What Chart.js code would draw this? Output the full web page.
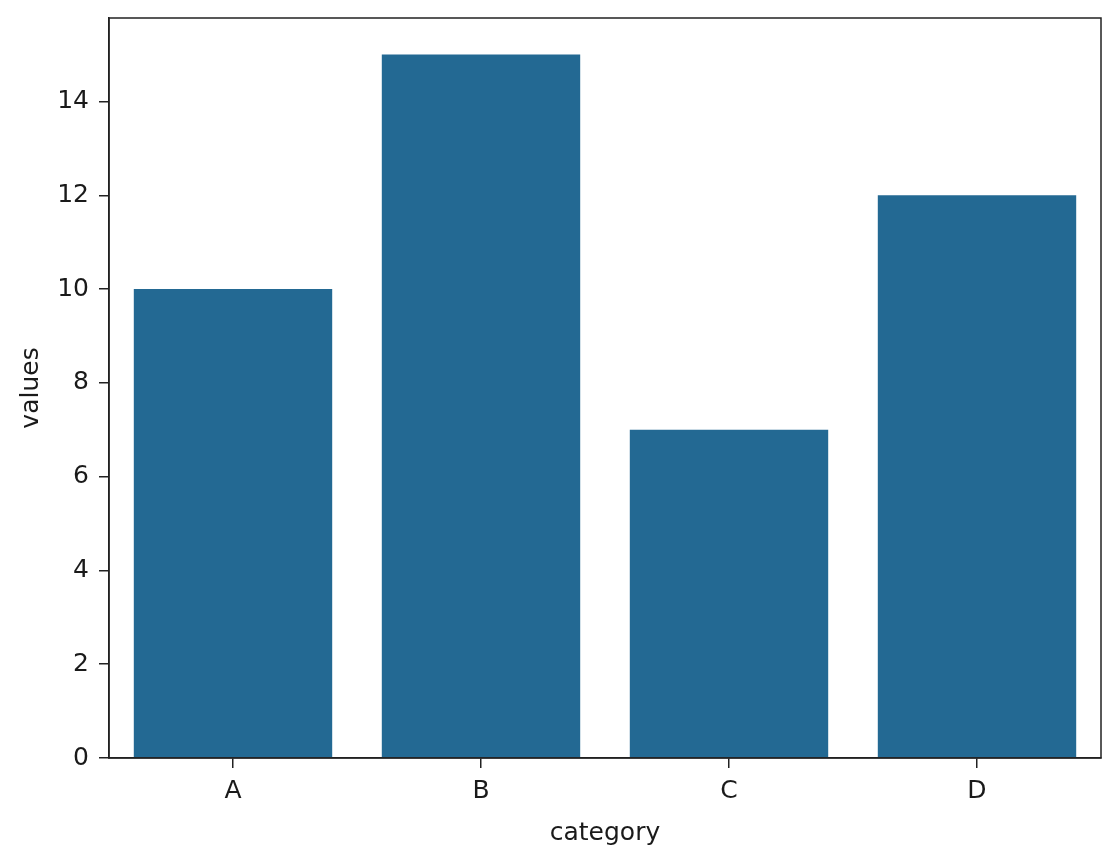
<!DOCTYPE html>
<html>
<head>
<meta charset="utf-8">
<script src="https://cdn.jsdelivr.net/npm/chart.js@4.4.1/dist/chart.umd.min.js"></script>
<style>
  html, body { margin: 0; padding: 0; background: #fff; }
  #wrap { width: 1116px; height: 852px; }
</style>
</head>
<body>
<div id="wrap"><canvas id="barChart"></canvas></div>
<script>
const categories = ["A", "B", "C", "D"];
const values = [10, 15, 7, 12];
const yTicks = [0, 2, 4, 6, 8, 10, 12, 14];

const BAR_COLOR = "#236993";
const AXIS_COLOR = "#222";
const FONT = "'DejaVu Sans', sans-serif";

// draws the full box around the plot like matplotlib
const frameBox = {
  id: "frameBox",
  afterDraw(chart) {
    const a = chart.chartArea;
    const ctx = chart.ctx;
    ctx.save();
    ctx.strokeStyle = AXIS_COLOR;
    ctx.lineWidth = 1.5;
    ctx.strokeRect(a.left, a.top, a.right - a.left, a.bottom - a.top);
    ctx.restore();
  }
};

new Chart(document.getElementById("barChart"), {
  type: "bar",
  data: {
    labels: categories,
    datasets: [{
      data: values,
      backgroundColor: BAR_COLOR,
      borderWidth: 0,
      categoryPercentage: 0.8,
      barPercentage: 1.0
    }]
  },
  options: {
    responsive: true,
    maintainAspectRatio: false,
    animation: false,
    layout: { padding: { top: 18, right: 15, left: 0, bottom: 0 } },
    plugins: {
      legend: { display: false },
      tooltip: { enabled: false }
    },
    scales: {
      x: {
        grid: { offset: false, drawOnChartArea: false, drawTicks: true, tickLength: 10, color: AXIS_COLOR, lineWidth: 1.5 },
        border: { display: true, color: AXIS_COLOR, width: 1.5 },
        ticks: { color: "#1a1a1a", padding: 8, font: { family: FONT, size: 25 } },
        title: { display: true, text: "category", color: "#1a1a1a", padding: { top: 0 }, font: { family: FONT, size: 25 } },
        afterFit(scale) {
          scale.height = 94;
          scale.paddingLeft = 0;
          scale.paddingRight = 0;
        }
      },
      y: {
        min: 0,
        max: 15.78,
        grid: { drawOnChartArea: false, drawTicks: true, tickLength: 10, color: AXIS_COLOR, lineWidth: 1.5 },
        border: { display: true, color: AXIS_COLOR, width: 1.5 },
        ticks: { stepSize: 2, color: "#1a1a1a", padding: 10, font: { family: FONT, size: 25 } },
        afterBuildTicks(scale) {
          scale.ticks = yTicks.map(v => ({ value: v }));
        },
        title: { display: true, text: "values", color: "#1a1a1a", padding: { top: 16, bottom: 6 }, font: { family: FONT, size: 25 } },
        afterFit(scale) {
          scale.width = 109;
          scale.paddingTop = 0;
          scale.paddingBottom = 0;
        }
      }
    }
  },
  plugins: [frameBox]
});
</script>
</body>
</html>
